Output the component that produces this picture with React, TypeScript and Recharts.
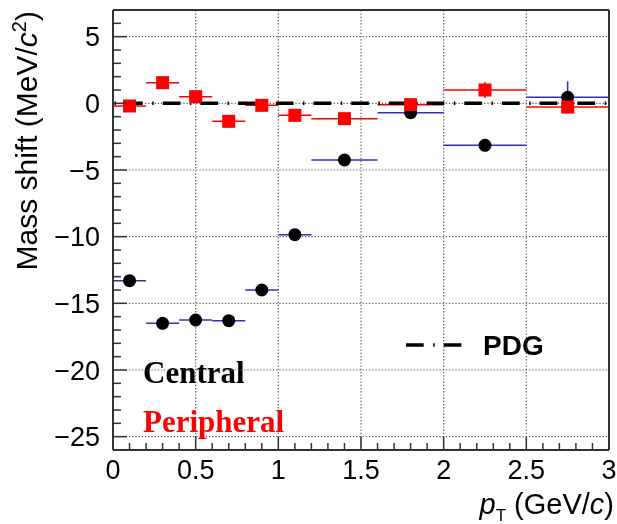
import React from 'react';
import { ScatterChart, Scatter, XAxis, YAxis, ErrorBar, ReferenceLine, Customized } from 'recharts';

// pT bins (GeV/c)
const binCenters = [0.1, 0.3, 0.5, 0.7, 0.9, 1.1, 1.4, 1.8, 2.25, 2.75];
const binHalfWidths = [0.1, 0.1, 0.1, 0.1, 0.1, 0.1, 0.2, 0.2, 0.25, 0.25];

// mass shift (MeV/c^2)
const centralShift = [-13.3, -16.5, -16.25, -16.3, -14.0, -9.85, -4.25, -0.7, -3.15, 0.45];
const centralErr = [0.3, 0.3, 0.3, 0.3, 0.3, 0.3, 0.3, 0.4, 0.4, 1.2];
const peripheralShift = [-0.2, 1.55, 0.5, -1.35, -0.15, -0.9, -1.15, -0.1, 1.0, -0.28];
const peripheralErr = [0.3, 0.3, 0.3, 0.3, 0.3, 0.3, 0.3, 0.3, 0.6, 0.3];

const xTicks = [0, 0.1, 0.2, 0.3, 0.4, 0.5, 0.6, 0.7, 0.8, 0.9, 1, 1.1, 1.2, 1.3, 1.4, 1.5, 1.6, 1.7, 1.8, 1.9, 2,
  2.1, 2.2, 2.3, 2.4, 2.5, 2.6, 2.7, 2.8, 2.9, 3];
const xMajor = [0, 0.5, 1, 1.5, 2, 2.5, 3];
const yTicks = [-26, -25, -24, -23, -22, -21, -20, -19, -18, -17, -16, -15, -14, -13, -12, -11, -10, -9, -8, -7, -6,
  -5, -4, -3, -2, -1, 0, 1, 2, 3, 4, 5, 6, 7];
const yMajor = [-25, -20, -15, -10, -5, 0, 5];
const pdgValue = 0;

const central = binCenters.map((x, i) => ({ x, y: centralShift[i], xErr: binHalfWidths[i], yErr: centralErr[i] }));
const peripheral = binCenters.map((x, i) => ({ x, y: peripheralShift[i], xErr: binHalfWidths[i], yErr: peripheralErr[i] }));

const FRAME = '#333';
const GRID = '#555';
const SANS = '"Liberation Sans", Arial, Helvetica, sans-serif';
const SERIF = '"Liberation Serif", "Times New Roman", serif';
const PDG_DASH = '17.7 9.5 1.5 9';

const fmt = (v: number) => (v < 0 ? '\u2212' + Math.abs(v) : String(v));

const BottomTick = (props: any) => {
  const { x, y, payload } = props;
  const major = xMajor.includes(payload.value);
  return (
    <g>
      <path d={`M${x},${y}V${y - (major ? 13 : 7)}`} stroke={FRAME} strokeWidth={1.5} fill="none" />
      {major && (
        <text x={x} y={y + 29} textAnchor="middle" fontFamily={SANS} fontSize={27} fill="#000">
          {fmt(payload.value)}
        </text>
      )}
    </g>
  );
};

const TopTick = (props: any) => {
  const { x, y, payload } = props;
  const major = xMajor.includes(payload.value);
  return <path d={`M${x},${y}V${y + (major ? 13 : 7)}`} stroke={FRAME} strokeWidth={1.5} fill="none" />;
};

const LeftTick = (props: any) => {
  const { x, y, payload } = props;
  const major = yMajor.includes(payload.value);
  return (
    <g>
      <path d={`M${x},${y}H${x + (major ? 14 : 8)}`} stroke={FRAME} strokeWidth={1.5} fill="none" />
      {major && (
        <text x={x - 13} y={y + 9.5} textAnchor="end" fontFamily={SANS} fontSize={27} fill="#000">
          {fmt(payload.value)}
        </text>
      )}
    </g>
  );
};

const RightTick = (props: any) => {
  const { x, y, payload } = props;
  const major = yMajor.includes(payload.value);
  return <path d={`M${x},${y}H${x - (major ? 14 : 8)}`} stroke={FRAME} strokeWidth={1.5} fill="none" />;
};

const Dot = ({ cx, cy }: any) => <circle cx={cx} cy={cy} r={6.5} fill="#000" />;
const Square = ({ cx, cy }: any) => <rect x={cx - 6.5} y={cy - 6.5} width={13} height={13} fill="#ff0000" />;

const Labels = () => (
  <g>
    <text transform="translate(37,11) rotate(-90)" textAnchor="end" fontFamily={SANS} fontSize={30} fill="#000">
      Mass shift (MeV/<tspan fontStyle="italic">c</tspan>
      <tspan dy={-11} fontSize={20}>2</tspan>
      <tspan dy={11}>)</tspan>
    </text>
    <text x={614} y={514} textAnchor="end" fontFamily={SANS} fontSize={29} fill="#000">
      <tspan fontStyle="italic">p</tspan>
      <tspan dy={7} fontSize={17}>T</tspan>
      <tspan dy={-7}> (GeV/</tspan>
      <tspan fontStyle="italic">c</tspan>)
    </text>
    <text x={143} y={383} fontFamily={SERIF} fontWeight="bold" fontSize={31} fill="#000">Central</text>
    <text x={143} y={432} fontFamily={SERIF} fontWeight="bold" fontSize={31} fill="#ff0000">Peripheral</text>
    <line x1={406} x2={463} y1={345} y2={345} stroke="#000" strokeWidth={3.5} strokeDasharray={PDG_DASH} />
    <text x={483} y={355} fontFamily={SANS} fontWeight="bold" fontSize={28} fill="#000">PDG</text>
  </g>
);

export default function App() {
  return (
    <div style={{ position: 'fixed', left: 0, top: 0, width: 617, height: 524 }}>
      <ScatterChart width={617} height={524} margin={{ top: 9, right: 7, left: 0, bottom: 0 }}>
        <XAxis xAxisId="b" type="number" dataKey="x" domain={[0, 3]} ticks={xTicks} interval={0}
          height={74} tickSize={0} tickMargin={0} tick={BottomTick} axisLine={{ stroke: FRAME, strokeWidth: 2 }} />
        <XAxis xAxisId="t" orientation="top" type="number" dataKey="x" domain={[0, 3]} ticks={xTicks} interval={0}
          height={1} tickSize={0} tickMargin={0} tick={TopTick} axisLine={{ stroke: FRAME, strokeWidth: 2 }} />
        <YAxis yAxisId="l" type="number" dataKey="y" domain={[-26, 7]} ticks={yTicks} interval={0}
          width={113} tickSize={0} tickMargin={0} tick={LeftTick} axisLine={{ stroke: FRAME, strokeWidth: 2 }} />
        <YAxis yAxisId="r" orientation="right" type="number" dataKey="y" domain={[-26, 7]} ticks={yTicks} interval={0}
          width={1} tickSize={0} tickMargin={0} tick={RightTick} axisLine={{ stroke: FRAME, strokeWidth: 2 }} />

        {xMajor.filter((v) => v > 0 && v < 3).map((v) => (
          <ReferenceLine key={'gx' + v} xAxisId="b" yAxisId="l" x={v} stroke={GRID} strokeWidth={1.2} strokeDasharray="1.2 2" />
        ))}
        {yMajor.map((v) => (
          <ReferenceLine key={'gy' + v} xAxisId="b" yAxisId="l" y={v} stroke={GRID} strokeWidth={1.2} strokeDasharray="1.2 2" />
        ))}

        <Scatter name="Central" data={central} xAxisId="b" yAxisId="l" shape={Dot} isAnimationActive={false}>
          <ErrorBar dataKey="xErr" direction="x" width={0} stroke="#3030c0" strokeWidth={1.5} />
          <ErrorBar dataKey="yErr" direction="y" width={0} stroke="#3030c0" strokeWidth={1.5} />
        </Scatter>
        <Scatter name="Peripheral" data={peripheral} xAxisId="b" yAxisId="l" shape={Square} isAnimationActive={false}>
          <ErrorBar dataKey="xErr" direction="x" width={0} stroke="#ff0000" strokeWidth={1.5} />
          <ErrorBar dataKey="yErr" direction="y" width={0} stroke="#ff0000" strokeWidth={1.5} />
        </Scatter>

        <ReferenceLine xAxisId="b" yAxisId="l" y={pdgValue} stroke="#000" strokeWidth={3.5}
          strokeDasharray={PDG_DASH} strokeDashoffset={25.7} />
        <Customized component={Labels} />
      </ScatterChart>
    </div>
  );
}
